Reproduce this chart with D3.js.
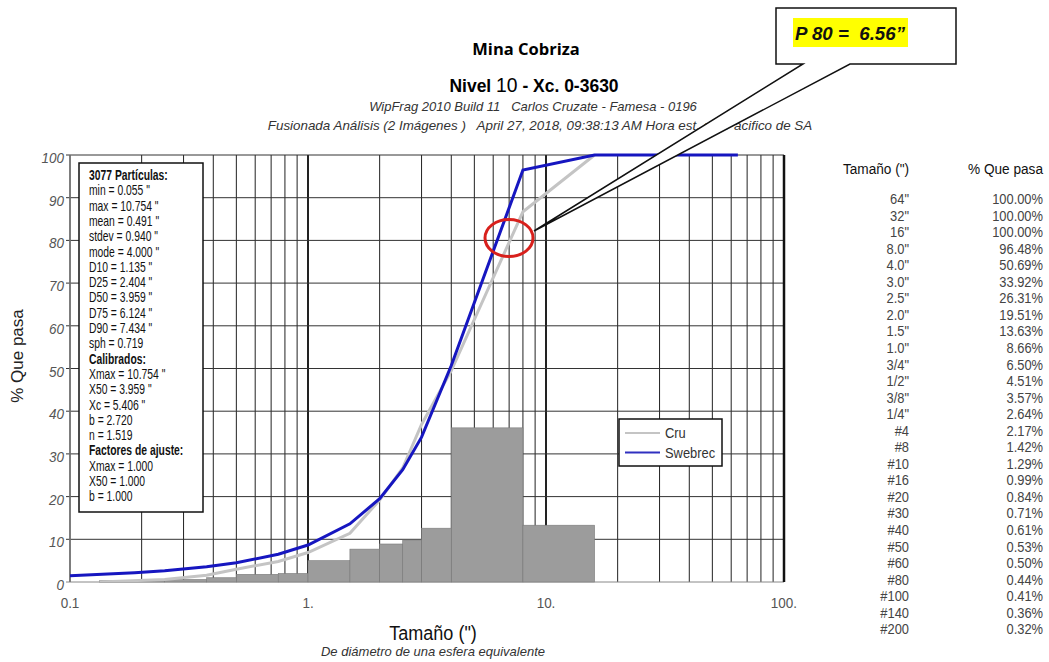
<!DOCTYPE html>
<html>
  <head>
    <meta charset="utf-8">
    <title>Mina Cobriza - curva granulometrica</title>
    <style>
      body { margin: 0; background: #fff; }
      svg { display: block; }
      text { font-family: "Liberation Sans", Arial, sans-serif; white-space: pre; }
    </style>
  </head>
  <body>
    <div id="container"></div>
    <script src="https://cdn.jsdelivr.net/npm/d3@7"></script>
    <script>
      // tabla de tamices (Swebrec)
      var sizeLabels = ['64"','32"','16"','8.0"','4.0"','3.0"','2.5"','2.0"','1.5"','1.0"','3/4"','1/2"','3/8"','1/4"',
                        '#4','#8','#10','#16','#20','#30','#40','#50','#60','#80','#100','#140','#200'];
      var sizeInches = [64,32,16,8,4,3,2.5,2,1.5,1,0.75,0.5,0.375,0.25,
                        0.187,0.0937,0.0787,0.0469,0.0331,0.0234,0.0165,0.0117,0.0098,0.0070,0.0059,0.0041,0.0029];
      var swebrecPass = [100,100,100,96.48,50.69,33.92,26.31,19.51,13.63,8.66,6.50,4.51,3.57,2.64,
                         2.17,1.42,1.29,0.99,0.84,0.71,0.61,0.53,0.50,0.44,0.41,0.36,0.32];

      // curva cruda
      var cruSize = [0.133,0.25,0.375,0.5,0.75,1,1.5,2,2.5,3,4,8,16];
      var cruPass = [0,0.6,1.6,3.0,4.8,6.9,11.4,19.2,26.7,36.9,49.5,86.7,100];

      // histograma
      var binLo = [0.133,0.25,0.375,0.5,0.75,1,1.5,2,2.5,3,4,8];
      var binHi = [0.25,0.375,0.5,0.75,1,1.5,2,2.5,3,4,8,16];
      var binPct = [0.3,0.6,1.0,1.8,2.0,5.0,7.7,8.9,9.8,12.6,36.1,13.3];

      var xTickLabels = ["0.1","1.","10.","100."];

      var statsLines = ["3077 Partículas:","min = 0.055 \"","max = 10.754 \"","mean = 0.491 \"","stdev = 0.940 \"",
                        "mode = 4.000 \"","D10 = 1.135 \"","D25 = 2.404 \"","D50 = 3.959 \"","D75 = 6.124 \"",
                        "D90 = 7.434 \"","sph = 0.719","Calibrados:","Xmax = 10.754 \"","X50 = 3.959 \"",
                        "Xc = 5.406 \"","b = 2.720","n = 1.519","Factores de ajuste:","Xmax = 1.000",
                        "X50 = 1.000","b = 1.000"];
      var statsBold = ["3077 Partículas:","Calibrados:","Factores de ajuste:"];

      var width = 1049, height = 662;
      var svg = d3.select("#container").append("svg")
        .attr("width", width)
        .attr("height", height);

      var x = d3.scaleLog().domain([0.1, 100]).range([70, 784]);
      var y = d3.scaleLinear().domain([0, 100]).range([582, 155]);

      // texto angosto (la fuente original es tipo Arial Narrow)
      function narrow(sel, tx, ty, sx) {
        return sel.append("text")
          .attr("transform", "translate(" + tx + "," + ty + ") scale(" + sx + ",1)");
      }

      // titulos
      svg.append("text")
        .attr("x", 526).attr("y", 55)
        .attr("text-anchor", "middle")
        .style("font-family", "'Open Sans', sans-serif")
        .style("font-weight", "bold").style("font-size", "16.5px")
        .text("Mina Cobriza");

      var t2 = narrow(svg, 534, 92, 0.92)
        .attr("text-anchor", "middle")
        .style("font-size", "19px");
      t2.append("tspan").style("font-weight", "bold").text("Nivel ");
      t2.append("tspan").style("font-size", "21px").text("10");
      t2.append("tspan").style("font-weight", "bold").text(" - Xc. 0-3630");

      narrow(svg, 533, 111, 1.0)
        .attr("text-anchor", "middle")
        .style("font-style", "italic").style("font-size", "13px").style("fill", "#333")
        .text("WipFrag 2010 Build 11   Carlos Cruzate - Famesa - 0196");
      narrow(svg, 540, 130, 1.03)
        .attr("text-anchor", "middle")
        .style("font-style", "italic").style("font-size", "13px").style("fill", "#333")
        .text("Fusionada Análisis (2 Imágenes )   April 27, 2018, 09:38:13 AM Hora est. del Pacifico de SA");

      var plot = svg.append("g");
      svg.append("clipPath").attr("id", "clip")
        .append("rect")
        .attr("x", x(0.1)).attr("y", y(100) - 2)
        .attr("width", x(100) - x(0.1)).attr("height", y(0) - y(100) + 2);

      // grilla
      plot.selectAll(".vgrid")
        .data(x.ticks())
        .enter().append("line")
          .attr("x1", function(d) { return x(d); })
          .attr("x2", function(d) { return x(d); })
          .attr("y1", y(0)).attr("y2", y(100))
          .style("stroke", "#222")
          .style("stroke-width", function(d) { return (d == 1 || d == 10) ? 2 : 1; });
      plot.selectAll(".hgrid")
        .data(y.ticks(10))
        .enter().append("line")
          .attr("x1", x(0.1) - 4).attr("x2", x(100))
          .attr("y1", function(d) { return y(d); })
          .attr("y2", function(d) { return y(d); })
          .style("stroke", function(d) { return d == 0 ? "#888" : "#333"; })
          .style("stroke-width", 1);
      plot.append("line")
        .attr("x1", x(0.1)).attr("x2", x(0.1))
        .attr("y1", y(0)).attr("y2", y(100))
        .style("stroke", "#777").style("stroke-width", 1.5);
      plot.append("line")
        .attr("x1", x(100)).attr("x2", x(100))
        .attr("y1", y(0)).attr("y2", y(100))
        .style("stroke", "#111").style("stroke-width", 2.5);

      // histograma
      plot.selectAll(".bar")
        .data(binPct)
        .enter().append("rect")
          .attr("x", function(d, i) { return x(binLo[i]); })
          .attr("width", function(d, i) { return x(binHi[i]) - x(binLo[i]); })
          .attr("y", function(d) { return y(d); })
          .attr("height", function(d) { return y(0) - y(d); })
          .style("fill", "#9c9c9c")
          .style("stroke", "#7a7a7a")
          .style("stroke-width", 0.6);

      // curvas
      var line = d3.line()
        .x(function(d) { return x(d[0]); })
        .y(function(d) { return y(d[1]); });

      var curves = plot.append("g").attr("clip-path", "url(#clip)");
      curves.append("path")
        .datum(d3.zip(cruSize, cruPass))
        .attr("d", line)
        .style("fill", "none").style("stroke", "#c4c4c4").style("stroke-width", 3);
      curves.append("path")
        .datum(d3.zip(sizeInches, swebrecPass))
        .attr("d", line)
        .style("fill", "none").style("stroke", "#1616c0").style("stroke-width", 3);

      // ejes
      svg.selectAll(".ylab")
        .data(y.ticks(10))
        .enter().append("text")
          .attr("transform", function(d) { return "translate(64," + (y(d) + 8) + ") scale(0.9,1)"; })
          .attr("text-anchor", "end")
          .style("font-style", "italic").style("font-size", "15px").style("fill", "#555")
          .text(function(d) { return d; });

      svg.selectAll(".xlab")
        .data([0.1, 1, 10, 100])
        .enter().append("text")
          .attr("transform", function(d) { return "translate(" + x(d) + ",608) scale(0.9,1)"; })
          .attr("text-anchor", "middle")
          .style("font-size", "15px").style("fill", "#555")
          .text(function(d, i) { return xTickLabels[i]; });

      narrow(svg, 433, 640, 0.86)
        .attr("text-anchor", "middle")
        .style("font-size", "21px").style("fill", "#111")
        .text("Tamaño (\")");
      narrow(svg, 433, 656, 1.0)
        .attr("text-anchor", "middle")
        .style("font-style", "italic").style("font-size", "13px").style("fill", "#333")
        .text("De diámetro de una esfera equivalente");
      svg.append("text")
        .attr("transform", "translate(23,356) rotate(-90)")
        .attr("text-anchor", "middle")
        .style("font-size", "17px").style("fill", "#222")
        .text("% Que pasa");

      // cuadro de estadisticas
      svg.append("rect")
        .attr("x", 79).attr("y", 163)
        .attr("width", 124).attr("height", 349)
        .style("fill", "#fff").style("stroke", "#111").style("stroke-width", 1.5);
      svg.selectAll(".stat")
        .data(statsLines)
        .enter().append("text")
          .attr("transform", function(d, i) { return "translate(89," + (180 + i * 15.3) + ") scale(0.74,1)"; })
          .style("font-size", "14px").style("fill", "#111")
          .style("font-weight", function(d) { return statsBold.indexOf(d) >= 0 ? "bold" : "normal"; })
          .text(function(d) { return d; });

      // leyenda
      var leg = svg.append("g");
      leg.append("rect")
        .attr("x", 619).attr("y", 419).attr("width", 103).attr("height", 47)
        .style("fill", "#fff").style("stroke", "#111").style("stroke-width", 1.5);
      [["Cru", "#c4c4c4"], ["Swebrec", "#3030c0"]].forEach(function(s, i) {
        leg.append("line")
          .attr("x1", 625).attr("x2", 660)
          .attr("y1", 433 + i * 19.5).attr("y2", 433 + i * 19.5)
          .style("stroke", s[1]).style("stroke-width", 2);
        narrow(leg, 665, 438 + i * 19.5, 0.86)
          .style("font-size", "15px").style("fill", "#333")
          .text(s[0]);
      });

      // tabla derecha
      narrow(svg, 876, 174, 0.88).attr("text-anchor", "middle")
        .style("font-size", "15.5px").style("fill", "#111")
        .text("Tamaño (\")");
      narrow(svg, 1043, 174, 0.88).attr("text-anchor", "end")
        .style("font-size", "15.5px").style("fill", "#111")
        .text("% Que pasa");
      svg.selectAll(".tsize")
        .data(sizeLabels)
        .enter().append("text")
          .attr("transform", function(d, i) { return "translate(909," + (204 + i * 16.55) + ") scale(0.86,1)"; })
          .attr("text-anchor", "end")
          .style("font-size", "15px").style("fill", "#444")
          .text(function(d) { return d; });
      svg.selectAll(".tpass")
        .data(swebrecPass)
        .enter().append("text")
          .attr("transform", function(d, i) { return "translate(1043," + (204 + i * 16.55) + ") scale(0.86,1)"; })
          .attr("text-anchor", "end")
          .style("font-size", "15px").style("fill", "#444")
          .text(function(d) { return d.toFixed(2) + "%"; });

      // marca P80
      svg.append("ellipse")
        .attr("cx", 509).attr("cy", 238).attr("rx", 24).attr("ry", 18.5)
        .style("fill", "none").style("stroke", "#d8201c").style("stroke-width", 3);

      svg.append("path")
        .attr("d", "M776,8 H956 V64 H850 L534,231 L803,64 H776 Z")
        .style("fill", "#fff").style("stroke", "#111").style("stroke-width", 1.5)
        .style("stroke-linejoin", "miter");
      svg.append("rect")
        .attr("x", 793).attr("y", 18).attr("width", 115).attr("height", 29)
        .style("fill", "#ffff00");
      svg.append("text")
        .attr("x", 795).attr("y", 40)
        .attr("textLength", 110).attr("lengthAdjust", "spacingAndGlyphs")
        .style("font-weight", "bold").style("font-style", "italic")
        .style("font-size", "19px").style("fill", "#111")
        .text("P 80 =  6.56”");
    </script>
  </body>
</html>
